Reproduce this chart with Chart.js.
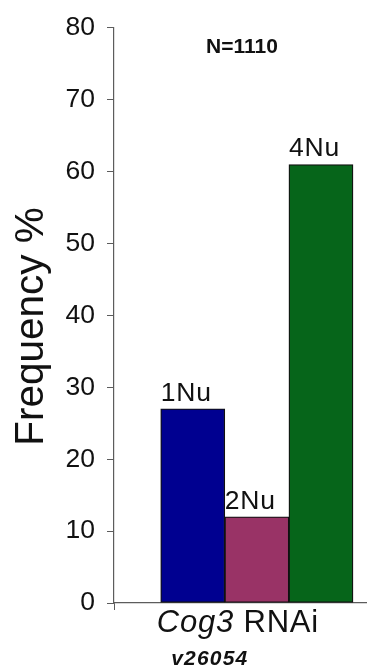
<!DOCTYPE html>
<html>
<head>
<meta charset="utf-8">
<script src="https://cdn.jsdelivr.net/npm/chart.js@4"></script>
<style>
  html, body { margin: 0; padding: 0; background: #fff; }
  #wrap { width: 367px; height: 669px; }
</style>
</head>
<body>
<div id="wrap"><canvas id="grafico" width="367" height="669"></canvas></div>
<script>
// dados
const categorias = ['1Nu', '2Nu', '4Nu'];
const frequencias = [27, 12, 61];
const cores = ['#000090', '#993366', '#06651a'];
const yTicks = [0, 10, 20, 30, 40, 50, 60, 70, 80];
const tituloY = 'Frequency %';
const nTotal = 'N=1110';
const grupo = ['Cog3', 'RNAi'];
const linhagem = 'v26054';

const fonte = '"Liberation Sans", Arial, Helvetica, sans-serif';
const cinza = '#5c5c5c';

let pontos = [];
for (let i = 0; i < frequencias.length; i++) {
    pontos.push({ x: i + 1, y: frequencias[i] });
}

// textos soltos (titulo do eixo, N, rotulos das barras, grupo)
const textos = {
    id: 'textos',
    afterDraw(chart) {
        const ctx = chart.ctx;
        const xs = chart.scales.x;
        const ys = chart.scales.y;
        ctx.save();
        ctx.fillStyle = '#111';

        // titulo do eixo y
        ctx.save();
        ctx.translate(43, ys.getPixelForValue(40) + 11);
        ctx.rotate(-Math.PI / 2);
        ctx.font = '40.5px ' + fonte;
        ctx.textAlign = 'center';
        ctx.textBaseline = 'alphabetic';
        ctx.fillText(tituloY, 0, 0);
        ctx.restore();

        // N
        ctx.font = 'bold 21px ' + fonte;
        ctx.textAlign = 'center';
        ctx.textBaseline = 'alphabetic';
        ctx.fillText(nTotal, 242, 53);

        // rotulos em cima das barras
        const meta = chart.getDatasetMeta(0);
        ctx.font = '26.5px ' + fonte;
        ctx.letterSpacing = '0.8px';
        ctx.textAlign = 'left';
        meta.data.forEach((bar, i) => {
            ctx.fillText(categorias[i], bar.x - bar.width / 2, bar.y - 8);
        });

        // Cog3 RNAi (italico + normal)
        ctx.letterSpacing = '0.8px';
        const centro = xs.getPixelForValue(2) - 19;
        ctx.font = 'italic 31px ' + fonte;
        const w1 = ctx.measureText(grupo[0] + ' ').width;
        ctx.font = '31px ' + fonte;
        const w2 = ctx.measureText(grupo[1]).width;
        let x0 = centro - (w1 + w2) / 2;
        ctx.font = 'italic 31px ' + fonte;
        ctx.fillText(grupo[0] + ' ', x0, 632);
        ctx.font = '31px ' + fonte;
        ctx.fillText(grupo[1], x0 + w1, 632);

        // linhagem
        ctx.letterSpacing = '1.2px';
        ctx.font = 'italic bold 21px ' + fonte;
        ctx.textAlign = 'center';
        ctx.fillText(linhagem, centro - 28, 665);
        ctx.restore();
    }
};

const config = {
    type: 'bar',
    data: {
        datasets: [{
            data: pontos,
            backgroundColor: cores,
            borderColor: '#111',
            borderWidth: 1.3,
            borderSkipped: false,
            barPercentage: 1,
            categoryPercentage: 1
        }]
    },
    options: {
        responsive: false,
        animation: false,
        devicePixelRatio: 1,
        layout: { padding: { top: 22, right: 0, bottom: 0, left: 0 } },
        plugins: {
            legend: { display: false },
            tooltip: { enabled: false }
        },
        scales: {
            x: {
                type: 'linear',
                offset: false,
                min: -0.2285,
                max: 3.718,
                grid: { offset: false, drawOnChartArea: false, drawTicks: true, tickLength: 7, color: cinza },
                border: { color: cinza, width: 1.2 },
                ticks: { display: false },
                afterBuildTicks: (scale) => { scale.ticks = [{ value: scale.min }]; },
                afterFit: (scale) => { scale.height = 66; }
            },
            y: {
                min: 0,
                max: 80,
                grid: { drawOnChartArea: false, drawTicks: true, tickLength: 7, color: cinza },
                border: { color: cinza, width: 1.2 },
                ticks: {
                    padding: 12,
                    color: '#111',
                    font: { family: fonte, size: 26.5 }
                },
                afterBuildTicks: (scale) => { scale.ticks = yTicks.map(v => ({ value: v })); },
                afterFit: (scale) => { scale.width = 114; }
            }
        }
    },
    plugins: [textos]
};

const ctx = document.getElementById('grafico').getContext('2d');
const plot = new Chart(ctx, config);
</script>
</body>
</html>
